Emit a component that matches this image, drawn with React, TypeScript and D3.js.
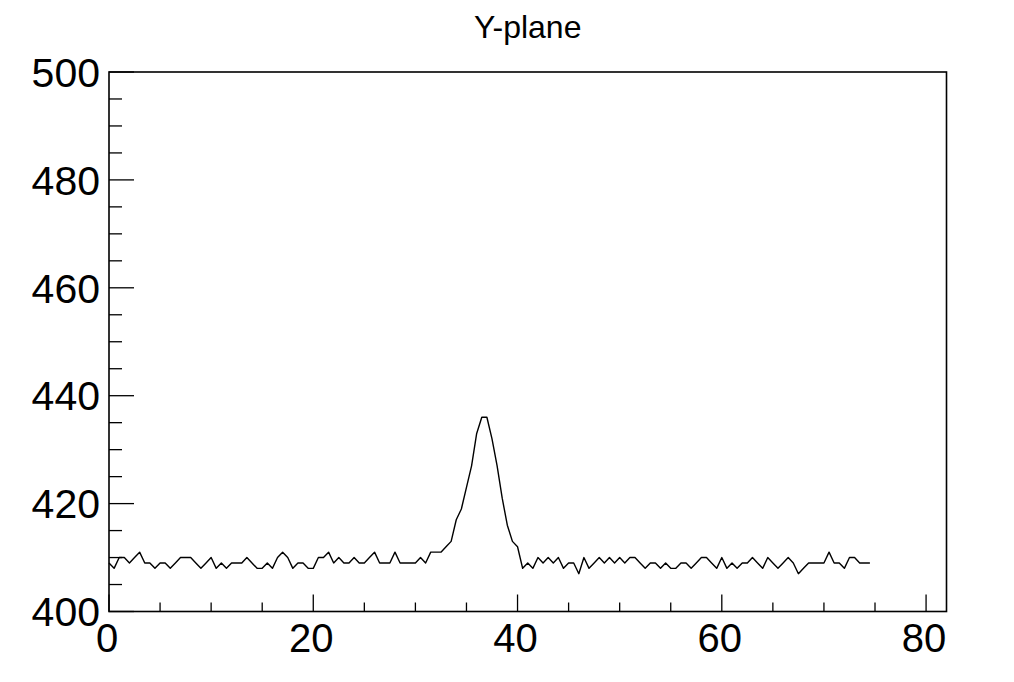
import React from "react";
import * as d3 from "d3";

const title = "Y-plane";
const xStart = 0;
const xStep = 0.5;
// samples at x = 0, 0.5, 1.0, ... 74.5
const values: number[] = [
  // 0 - 9.5
  409, 408, 410, 410, 409, 410, 411, 409, 409, 408,
  409, 409, 408, 409, 410, 410, 410, 409, 408, 409,
  // 10 - 19.5
  410, 408, 409, 408, 409, 409, 409, 410, 409, 408,
  408, 409, 408, 410, 411, 410, 408, 409, 409, 408,
  // 20 - 29.5
  408, 410, 410, 411, 409, 410, 409, 409, 410, 409,
  409, 410, 411, 409, 409, 409, 411, 409, 409, 409,
  // 30 - 39.5
  409, 410, 409, 411, 411, 411, 412, 413, 417, 419,
  423, 427, 433, 436, 436, 432, 427, 421, 416, 413,
  // 40 - 49.5
  412, 408, 409, 408, 410, 409, 410, 409, 410, 408,
  409, 409, 407, 410, 408, 409, 410, 409, 410, 409,
  // 50 - 59.5
  410, 409, 410, 410, 409, 408, 409, 409, 408, 409,
  408, 408, 409, 409, 408, 409, 410, 410, 409, 408,
  // 60 - 69.5
  410, 408, 409, 408, 409, 409, 410, 409, 408, 410,
  409, 408, 409, 410, 409, 407, 408, 409, 409, 409,
  // 70 - 74.5
  409, 411, 409, 409, 408, 410, 410, 409, 409, 409,
];

const xDomain: [number, number] = [0, 82];
const yDomain: [number, number] = [400, 500];
const xMajorTicks = [0, 20, 40, 60, 80];
const yMajorTicks = [400, 420, 440, 460, 480, 500];
const xMinorStep = 5;
const yMinorStep = 5;

export default function App() {
  const W = 1014;
  const H = 682;
  const left = 109;
  const right = 946.5;
  const top = 72;
  const bottom = 611.5;

  const x = d3.scaleLinear().domain(xDomain).range([left, right]);
  const y = d3.scaleLinear().domain(yDomain).range([bottom, top]);

  const pts: [number, number][] = values.map((v, i) => [xStart + i * xStep, v]);
  const line = d3
    .line<[number, number]>()
    .x((d) => x(d[0]))
    .y((d) => y(d[1]));

  const xMinor = d3.range(xDomain[0], xDomain[1] + 0.001, xMinorStep).filter((t) => !xMajorTicks.includes(t));
  const yMinor = d3.range(yDomain[0], yDomain[1] + 0.001, yMinorStep).filter((t) => !yMajorTicks.includes(t));

  const font = "'Liberation Sans', Arial, Helvetica, sans-serif";

  return (
    <svg
      width={W}
      height={H}
      style={{ position: "absolute", left: 0, top: 0, background: "#fff" }}
    >
      <rect x={0} y={0} width={W} height={H} fill="#fff" />
      <text
        x={(left + right) / 2}
        y={38}
        textAnchor="middle"
        fontFamily={font}
        fontSize={32}
        fill="#000"
      >
        {title}
      </text>

      {/* y ticks */}
      {yMajorTicks.map((t) => (
        <line key={"ym" + t} x1={left} x2={left + 25} y1={y(t)} y2={y(t)} stroke="#000" strokeWidth={1.3} />
      ))}
      {yMinor.map((t) => (
        <line key={"yn" + t} x1={left} x2={left + 13} y1={y(t)} y2={y(t)} stroke="#000" strokeWidth={1.3} />
      ))}
      {/* x ticks */}
      {xMajorTicks.map((t) => (
        <line key={"xm" + t} x1={x(t)} x2={x(t)} y1={bottom} y2={bottom - 17} stroke="#000" strokeWidth={1.3} />
      ))}
      {xMinor.map((t) => (
        <line key={"xn" + t} x1={x(t)} x2={x(t)} y1={bottom} y2={bottom - 9} stroke="#000" strokeWidth={1.3} />
      ))}

      {/* data line */}
      <path d={line(pts) || ""} fill="none" stroke="#000" strokeWidth={1.4} strokeLinejoin="round" />

      {/* frame */}
      <rect
        x={left}
        y={top}
        width={right - left}
        height={bottom - top}
        fill="none"
        stroke="#000"
        strokeWidth={1.6}
      />

      {/* y labels */}
      {yMajorTicks.map((t) => (
        <text
          key={"yl" + t}
          x={left - 9}
          y={y(t) + 14.7}
          textAnchor="end"
          fontFamily={font}
          fontSize={41}
          fill="#000"
        >
          {t}
        </text>
      ))}
      {/* x labels */}
      {xMajorTicks.map((t) => (
        <text
          key={"xl" + t}
          x={x(t) - 2}
          y={651.5}
          textAnchor="middle"
          fontFamily={font}
          fontSize={40}
          fill="#000"
        >
          {t}
        </text>
      ))}
    </svg>
  );
}
